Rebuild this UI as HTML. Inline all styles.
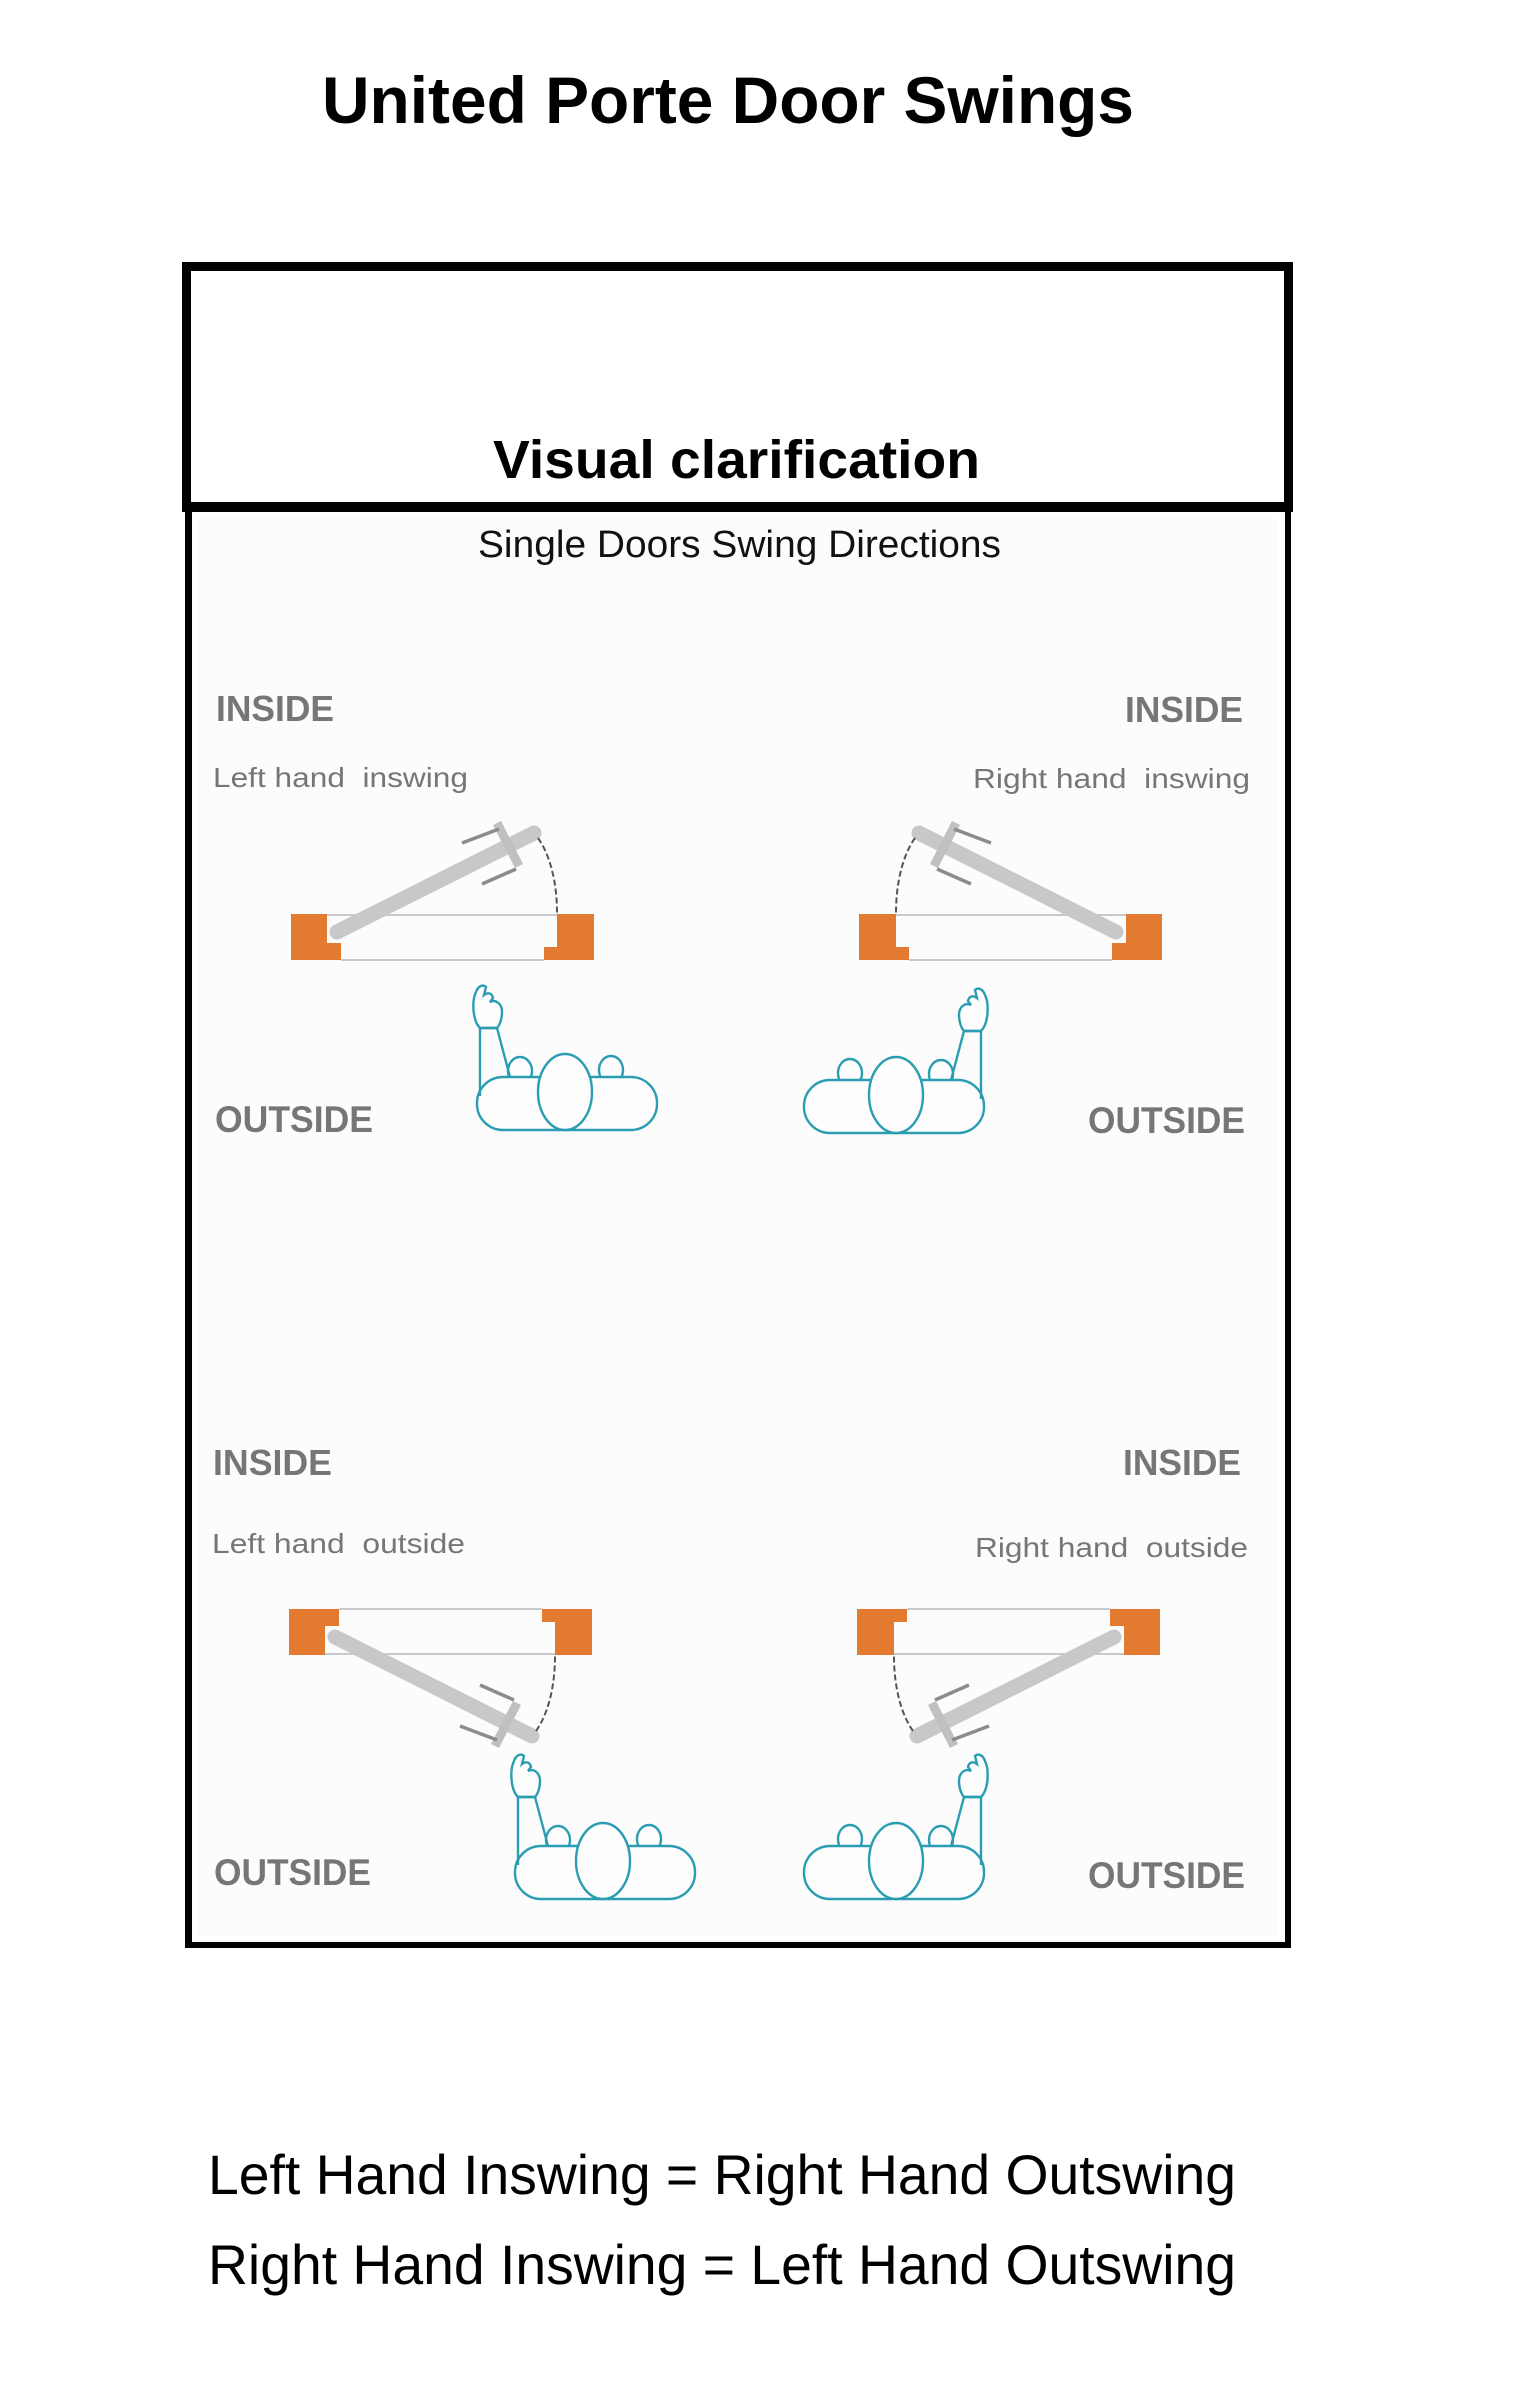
<!DOCTYPE html>
<html>
<head>
<meta charset="utf-8">
<style>
  html,body{margin:0;padding:0;background:#fff;}
  svg{display:block;}
  .t{font-family:"Liberation Sans",Arial,sans-serif;}
  .g{font-family:"Liberation Sans",Arial,sans-serif;fill:#767676;white-space:pre;}
</style>
</head>
<body>
<svg width="1526" height="2390" viewBox="0 0 1526 2390" xmlns="http://www.w3.org/2000/svg">
  <defs>
    <g id="door">
      <line x1="327" y1="915" x2="557" y2="915" stroke="#b8b8b8" stroke-width="1.5"/>
      <line x1="341" y1="960" x2="544" y2="960" stroke="#b8b8b8" stroke-width="1.5"/>
      <path d="M291,914 H327 V943 H341 V960 H291 Z" fill="#e27b30"/>
      <path d="M557,914 H594 V960 H544 V947 H557 Z" fill="#e27b30"/>
      <line x1="337" y1="932" x2="534" y2="833" stroke="#c8c8c8" stroke-width="15" stroke-linecap="round"/>
      <line x1="497" y1="823" x2="519" y2="866" stroke="#c0c0c0" stroke-width="9"/>
      <line x1="499" y1="829" x2="462" y2="843" stroke="#8c8c8c" stroke-width="3.5"/>
      <line x1="516" y1="869" x2="482" y2="884" stroke="#8c8c8c" stroke-width="3.5"/>
      <path d="M538,838 C550,855 557,882 557,913" fill="none" stroke="#555" stroke-width="2" stroke-dasharray="6 3"/>
    </g>
    <g id="person" fill="#fdfdfd" stroke="#2b9db3" stroke-width="2.4">
      <ellipse cx="520" cy="1071" rx="12" ry="14"/>
      <ellipse cx="611" cy="1070" rx="12" ry="14"/>
      <rect x="477" y="1077" width="180" height="53" rx="26"/>
      <ellipse cx="565" cy="1092" rx="27" ry="38"/>
      <path d="M480,1028 L480,1096 M497,1028 L510,1077" fill="none"/>
      <path d="M480,1028 C472,1020 472,1000 476,992 C478,986 483,984 486,987 L484,995 C488,992 492,993 493,998 L490,1002 C496,999 502,1004 502,1012 C502,1020 499,1026 497,1028 Z"/>
      <line x1="480" y1="1028" x2="497" y2="1028"/>
    </g>
  </defs>

  <!-- Title -->
  <text class="t" x="322" y="123" font-size="66" font-weight="bold" fill="#000" textLength="812" lengthAdjust="spacingAndGlyphs">United Porte Door Swings</text>

  <!-- inner light area -->
  <rect x="198" y="518" width="1080" height="1418" fill="#fcfcfc"/>

  <!-- Top box -->
  <rect x="182" y="262" width="1111" height="9" fill="#000"/>
  <rect x="182" y="262" width="9" height="250" fill="#000"/>
  <rect x="1284" y="262" width="9" height="250" fill="#000"/>
  <rect x="182" y="502" width="1111" height="10" fill="#000"/>
  <text class="t" x="493" y="478" font-size="54" font-weight="bold" fill="#000" textLength="487" lengthAdjust="spacingAndGlyphs">Visual clarification</text>

  <!-- Lower box -->
  <rect x="185" y="512" width="7" height="1436" fill="#000"/>
  <rect x="1285" y="512" width="6" height="1436" fill="#000"/>
  <rect x="185" y="1942" width="1106" height="6" fill="#000"/>

  <text class="t" x="478" y="557" font-size="38" fill="#111" textLength="523" lengthAdjust="spacingAndGlyphs">Single Doors Swing Directions</text>

  <!-- Diagrams -->
  <use href="#door"/>
  <use href="#door" transform="matrix(-1,0,0,1,1453,0)"/>
  <use href="#door" transform="matrix(1,0,0,-1,-2,2569)"/>
  <use href="#door" transform="matrix(-1,0,0,-1,1451,2569)"/>

  <use href="#person"/>
  <use href="#person" transform="matrix(-1,0,0,1,1461,3)"/>
  <use href="#person" transform="translate(38,769)"/>
  <use href="#person" transform="matrix(-1,0,0,1,1461,769)"/>

  <!-- Labels TL -->
  <text class="g" x="216" y="721" font-size="36" font-weight="bold" textLength="118" lengthAdjust="spacingAndGlyphs">INSIDE</text>
  <text class="g" x="213" y="787" font-size="28" textLength="255" lengthAdjust="spacingAndGlyphs">Left hand  inswing</text>
  <text class="g" x="215" y="1132" font-size="37" font-weight="bold" textLength="158" lengthAdjust="spacingAndGlyphs">OUTSIDE</text>
  <!-- Labels TR -->
  <text class="g" x="1125" y="722" font-size="36" font-weight="bold" textLength="118" lengthAdjust="spacingAndGlyphs">INSIDE</text>
  <text class="g" x="973" y="788" font-size="28" textLength="277" lengthAdjust="spacingAndGlyphs">Right hand  inswing</text>
  <text class="g" x="1088" y="1133" font-size="37" font-weight="bold" textLength="157" lengthAdjust="spacingAndGlyphs">OUTSIDE</text>
  <!-- Labels BL -->
  <text class="g" x="213" y="1475" font-size="36" font-weight="bold" textLength="119" lengthAdjust="spacingAndGlyphs">INSIDE</text>
  <text class="g" x="212" y="1553" font-size="28" textLength="253" lengthAdjust="spacingAndGlyphs">Left hand  outside</text>
  <text class="g" x="214" y="1885" font-size="37" font-weight="bold" textLength="157" lengthAdjust="spacingAndGlyphs">OUTSIDE</text>
  <!-- Labels BR -->
  <text class="g" x="1123" y="1475" font-size="36" font-weight="bold" textLength="118" lengthAdjust="spacingAndGlyphs">INSIDE</text>
  <text class="g" x="975" y="1557" font-size="28" textLength="273" lengthAdjust="spacingAndGlyphs">Right hand  outside</text>
  <text class="g" x="1088" y="1888" font-size="37" font-weight="bold" textLength="157" lengthAdjust="spacingAndGlyphs">OUTSIDE</text>

  <!-- Bottom equations -->
  <text class="t" x="208" y="2194" font-size="56" fill="#000" textLength="1028" lengthAdjust="spacingAndGlyphs">Left Hand Inswing = Right Hand Outswing</text>
  <text class="t" x="208" y="2284" font-size="56" fill="#000" textLength="1028" lengthAdjust="spacingAndGlyphs">Right Hand Inswing = Left Hand Outswing</text>
</svg>
</body>
</html>
